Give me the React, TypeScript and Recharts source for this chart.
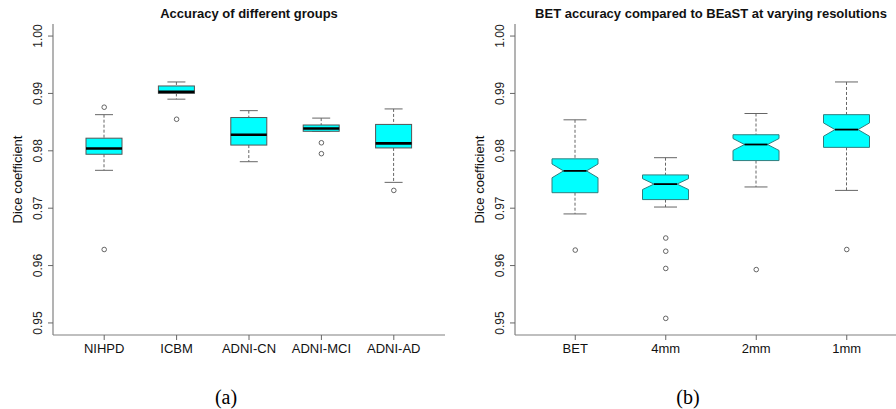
import React from "react";
import { ComposedChart, Bar, Line, XAxis, YAxis } from "recharts";

// (a) accuracy of different groups
const groupsA = ["NIHPD", "ICBM", "ADNI-CN", "ADNI-MCI", "ADNI-AD"];
const lowA = [0.9766, 0.989, 0.9781, 0.9834, 0.9745];
const q1A = [0.9794, 0.99, 0.981, 0.9834, 0.9805];
const medA = [0.9804, 0.9903, 0.9828, 0.9839, 0.9813];
const q3A = [0.9822, 0.9913, 0.9858, 0.9845, 0.9846];
const highA = [0.9863, 0.992, 0.987, 0.9857, 0.9873];
const outA = [[0.9876, 0.9628], [0.9855], [], [0.9814, 0.9795], [0.9731]];

// (b) BET vs BEaST at varying resolutions
const groupsB = ["BET", "4mm", "2mm", "1mm"];
const lowB = [0.969, 0.9702, 0.9737, 0.9731];
const q1B = [0.9727, 0.9715, 0.9783, 0.9806];
const medB = [0.9765, 0.9742, 0.9811, 0.9837];
const q3B = [0.9786, 0.9758, 0.9828, 0.9863];
const highB = [0.9854, 0.9788, 0.9865, 0.992];
const notchB = [0.0012, 0.00095, 0.00104, 0.00116];
const outB = [[0.9627], [0.9648, 0.9625, 0.9595, 0.9508], [0.9593], [0.9628]];

const yTicks = [0.95, 0.96, 0.97, 0.98, 0.99, 1.0];
const yDomain = [0.9479, 1.0021];

const FONT = "'Liberation Sans', Arial, Helvetica, sans-serif";
const GRAY = "#808080";

function buildRows(groups, low, q1, med, q3, high, outs, notch?) {
  return groups.map((name, i) => {
    const row: any = {
      name,
      range: [low[i], high[i]],
      low: low[i],
      q1: q1[i],
      med: med[i],
      q3: q3[i],
      high: high[i],
      notch: notch ? notch[i] : 0,
    };
    for (let k = 0; k < 4; k++) row["o" + (k + 1)] = outs[i][k] ?? null;
    return row;
  });
}

const rowsA = buildRows(groupsA, lowA, q1A, medA, q3A, highA, outA);
const rowsB = buildRows(groupsB, lowB, q1B, medB, q3B, highB, outB, notchB);

function BoxShape(props: any) {
  const { x, y, width, height, payload, notched, boxStroke, medWidth } = props;
  if (x == null || y == null) return <g />;
  const top = Math.min(y, y + height);
  const bot = Math.max(y, y + height);
  const lo = payload.low;
  const hi = payload.high;
  const py = (v: number) => bot - ((v - lo) / (hi - lo)) * (bot - top);
  const cx = x + width / 2;
  const left = x;
  const right = x + width;
  const yq1 = py(payload.q1);
  const yq3 = py(payload.q3);
  const ym = py(payload.med);
  const cap = width / 4;
  let box;
  let mx1 = left;
  let mx2 = right;
  if (notched) {
    const nHi = py(payload.med + payload.notch);
    const nLo = py(payload.med - payload.notch);
    mx1 = cx - width / 4;
    mx2 = cx + width / 4;
    const pts = [
      [left, yq3],
      [right, yq3],
      [right, nHi],
      [mx2, ym],
      [right, nLo],
      [right, yq1],
      [left, yq1],
      [left, nLo],
      [mx1, ym],
      [left, nHi],
    ]
      .map((p) => p.join(","))
      .join(" ");
    box = <polygon points={pts} fill="#00ffff" stroke={boxStroke} strokeWidth={1} />;
  } else {
    box = (
      <rect x={left} y={yq3} width={width} height={yq1 - yq3} fill="#00ffff" stroke={boxStroke} strokeWidth={1} />
    );
  }
  return (
    <g>
      <line x1={cx} x2={cx} y1={top} y2={yq3} stroke="#666" strokeDasharray="3 2" />
      <line x1={cx} x2={cx} y1={yq1} y2={bot} stroke="#666" strokeDasharray="3 2" />
      <line x1={cx - cap} x2={cx + cap} y1={top} y2={top} stroke="#666" />
      <line x1={cx - cap} x2={cx + cap} y1={bot} y2={bot} stroke="#666" />
      {box}
      <line x1={mx1} x2={mx2} y1={ym} y2={ym} stroke="#000" strokeWidth={medWidth} />
    </g>
  );
}

function OutlierDot(props: any) {
  const { cx, cy, index } = props;
  if (cx == null || cy == null || isNaN(cy)) return <g key={"e" + index} />;
  return <circle key={"c" + index} cx={cx} cy={cy} r={2.3} fill="none" stroke="#555" strokeWidth={0.9} />;
}

function Panel({ rows, width, left, plotLeft, plotRight, barSize, notched, boxStroke, medWidth, title }) {
  const yAxisW = 30;
  const xAxisH = 30;
  const top = 24;
  const bottomPlot = 335;
  const height = 409;
  const labelX = plotLeft - 15;
  const titleX = plotLeft - 36;
  const midY = (top + bottomPlot) / 2;
  const YTick = ({ y, payload }: any) => (
    <text
      x={labelX}
      y={y}
      transform={`rotate(-90 ${labelX} ${y})`}
      textAnchor="middle"
      dominantBaseline="central"
      fontSize={12}
      fontFamily={FONT}
      fill="#222"
    >
      {Number(payload.value).toFixed(2)}
    </text>
  );
  return (
    <div style={{ position: "absolute", left, top: 0, width, height }}>
      <div
        style={{
          position: "absolute",
          top: 5,
          left: plotLeft - 100,
          width: plotRight - plotLeft + 200,
          textAlign: "center",
          fontFamily: FONT,
          fontWeight: "bold",
          fontSize: 13,
          lineHeight: "18px",
          color: "#111",
        }}
      >
        {title}
      </div>
      <ComposedChart
        width={width}
        height={height}
        data={rows}
        margin={{ top, right: width - plotRight, bottom: height - bottomPlot - xAxisH, left: plotLeft - yAxisW }}
      >
        <XAxis
          dataKey="name"
          height={xAxisH}
          padding={{ left: 15, right: 15 }}
          tickSize={5}
          tickMargin={4}
          axisLine={{ stroke: GRAY, strokeWidth: 1.2 }}
          tickLine={{ stroke: "#666" }}
          tick={{ fontSize: 13, fontFamily: FONT, fill: "#111" }}
          interval={0}
        />
        <XAxis xAxisId="top" dataKey="name" orientation="top" height={0} tick={false} tickLine={false} axisLine={{ stroke: GRAY, strokeWidth: 1.2 }} />
        <YAxis
          type="number"
          domain={yDomain}
          ticks={yTicks}
          allowDataOverflow
          width={yAxisW}
          tickSize={5}
          axisLine={{ stroke: GRAY, strokeWidth: 1.2 }}
          tickLine={{ stroke: "#666" }}
          tick={<YTick />}
          label={{
            content: () => (
              <text
                x={titleX}
                y={midY}
                transform={`rotate(-90 ${titleX} ${midY})`}
                textAnchor="middle"
                dominantBaseline="central"
                fontSize={13}
                fontFamily={FONT}
                fill="#111"
              >
                Dice coefficient
              </text>
            ),
          }}
        />
        <YAxis yAxisId="right" orientation="right" type="number" domain={yDomain} width={0} tick={false} tickLine={false} axisLine={{ stroke: GRAY, strokeWidth: 1.2 }} />
        <Bar
          dataKey="range"
          barSize={barSize}
          isAnimationActive={false}
          shape={(p: any) => <BoxShape {...p} notched={notched} boxStroke={boxStroke} medWidth={medWidth} />}
        />
        {["o1", "o2", "o3", "o4"].map((k) => (
          <Line key={k} dataKey={k} stroke="none" dot={OutlierDot} activeDot={false} isAnimationActive={false} />
        ))}
      </ComposedChart>
    </div>
  );
}

export default function App() {
  return (
    <div style={{ position: "fixed", left: 0, top: 0, width: 896, height: 409, overflow: "hidden", background: "#fff" }}>
      <Panel
        rows={rowsA}
        width={448}
        left={0}
        plotLeft={53}
        plotRight={445}
        barSize={36}
        notched={false}
        boxStroke="#555"
        medWidth={2.6}
        title="Accuracy of different groups"
      />
      <Panel
        rows={rowsB}
        width={470}
        left={448}
        plotLeft={67}
        plotRight={459}
        barSize={46}
        notched={true}
        boxStroke="#2f7f7f"
        medWidth={1.8}
        title="BET accuracy compared to BEaST at varying resolutions"
      />
      <div style={{ position: "absolute", left: 196, top: 384, width: 60, textAlign: "center", fontFamily: "'Liberation Serif', 'DejaVu Serif', serif", fontSize: 20, lineHeight: "26px" }}>
        (a)
      </div>
      <div style={{ position: "absolute", left: 658, top: 384, width: 60, textAlign: "center", fontFamily: "'Liberation Serif', 'DejaVu Serif', serif", fontSize: 20, lineHeight: "26px" }}>
        (b)
      </div>
    </div>
  );
}
